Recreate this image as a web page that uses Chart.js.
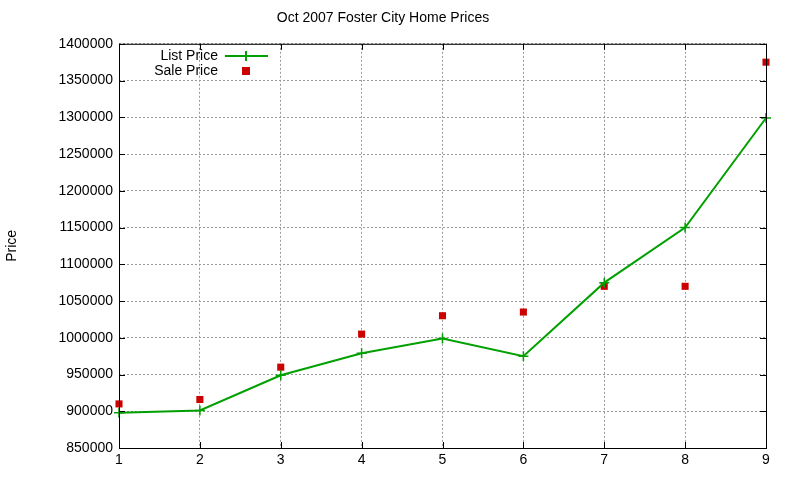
<!DOCTYPE html>
<html><head><meta charset="utf-8">
<script src="https://cdn.jsdelivr.net/npm/chart.js@4/dist/chart.umd.min.js"></script>
<style>html,body{margin:0;background:#fff}#w{width:800px;height:480px}</style>
</head><body><div id="w"><canvas id="c" width="800" height="480"></canvas></div>
<script>
const categories=[1,2,3,4,5,6,7,8,9];
const listPrice=[898000,901000,949000,979000,999000,975000,1075000,1150000,1299000];
const salePrice=[910000,916000,960000,1005000,1030000,1035000,1070000,1070000,1375000];
const seriesNames=['List Price','Sale Price'];
const titleText='Oct 2007 Foster City Home Prices';
const yLabel='Price';

const legendPlugin={id:'gl',afterDraw(ch){const c=ch.ctx;c.save();c.font='14px "Liberation Sans", Arial';c.fillStyle='#000';c.textAlign='right';c.textBaseline='middle';
c.fillText(seriesNames[0],218,56);c.fillText(seriesNames[1],218,71);
c.strokeStyle='#00a000';c.lineWidth=2;c.beginPath();c.moveTo(225,56);c.lineTo(268,56);c.moveTo(246,51);c.lineTo(246,61);c.stroke();
c.fillStyle='#cc0000';c.fillRect(242,67,8,8);c.restore();}};
const borderPlugin={id:'bd',afterDraw(ch){const a=ch.chartArea,c=ch.ctx;c.save();c.strokeStyle='#000';c.lineWidth=1;c.strokeRect(a.left+0.5,a.top+0.5,a.right-a.left,a.bottom-a.top);
c.beginPath();const xs=ch.scales.x,ys=ch.scales.y;
xs.ticks.forEach(t=>{const p=Math.round(xs.getPixelForValue(t.value))+0.5;c.moveTo(p,a.bottom);c.lineTo(p,a.bottom-6);c.moveTo(p,a.top);c.lineTo(p,a.top+6);});
ys.ticks.forEach(t=>{const p=Math.round(ys.getPixelForValue(t.value))+0.5;c.moveTo(a.left,p);c.lineTo(a.left+6,p);c.moveTo(a.right,p);c.lineTo(a.right-6,p);});
c.stroke();c.restore();}};
const F={family:'"Liberation Sans", Arial',size:14};
new Chart(document.getElementById('c'),{
type:'line',
data:{datasets:[
{label:seriesNames[0],data:categories.map((x,i)=>({x,y:listPrice[i]})),borderColor:'#00a000',borderWidth:2,pointStyle:'cross',pointRadius:5,pointBorderWidth:1.5,pointBorderColor:'#00a000',tension:0,fill:false,clip:false},
{label:seriesNames[1],data:categories.map((x,i)=>({x,y:salePrice[i]})),showLine:false,pointStyle:'rect',pointRadius:5,backgroundColor:'#cc0000',borderColor:'#cc0000',pointBorderWidth:0,clip:false}
]},
options:{animation:false,responsive:false,devicePixelRatio:1,
layout:{padding:{top:8,right:34,left:0,bottom:0}},
plugins:{legend:{display:false},tooltip:{enabled:false},
title:{display:true,text:titleText,color:'#000',font:{...F,weight:'normal'},padding:{top:2,bottom:17}}},
scales:{
x:{type:'linear',min:1,max:9,afterFit:s=>{s.height=32;},ticks:{stepSize:1,color:'#000',font:F,padding:4},grid:{color:'#999',drawTicks:false},border:{dash:[2,2],display:false}},
y:{min:850000,max:1400000,afterFit:s=>{s.width=119;},ticks:{stepSize:50000,color:'#000',font:F,padding:6,callback:v=>String(v)},grid:{color:'#999',drawTicks:false},border:{dash:[2,2],display:false},
title:{display:true,text:yLabel,color:'#000',font:F,padding:{bottom:12}}}
}},
plugins:[legendPlugin,borderPlugin]
});
</script></body></html>
